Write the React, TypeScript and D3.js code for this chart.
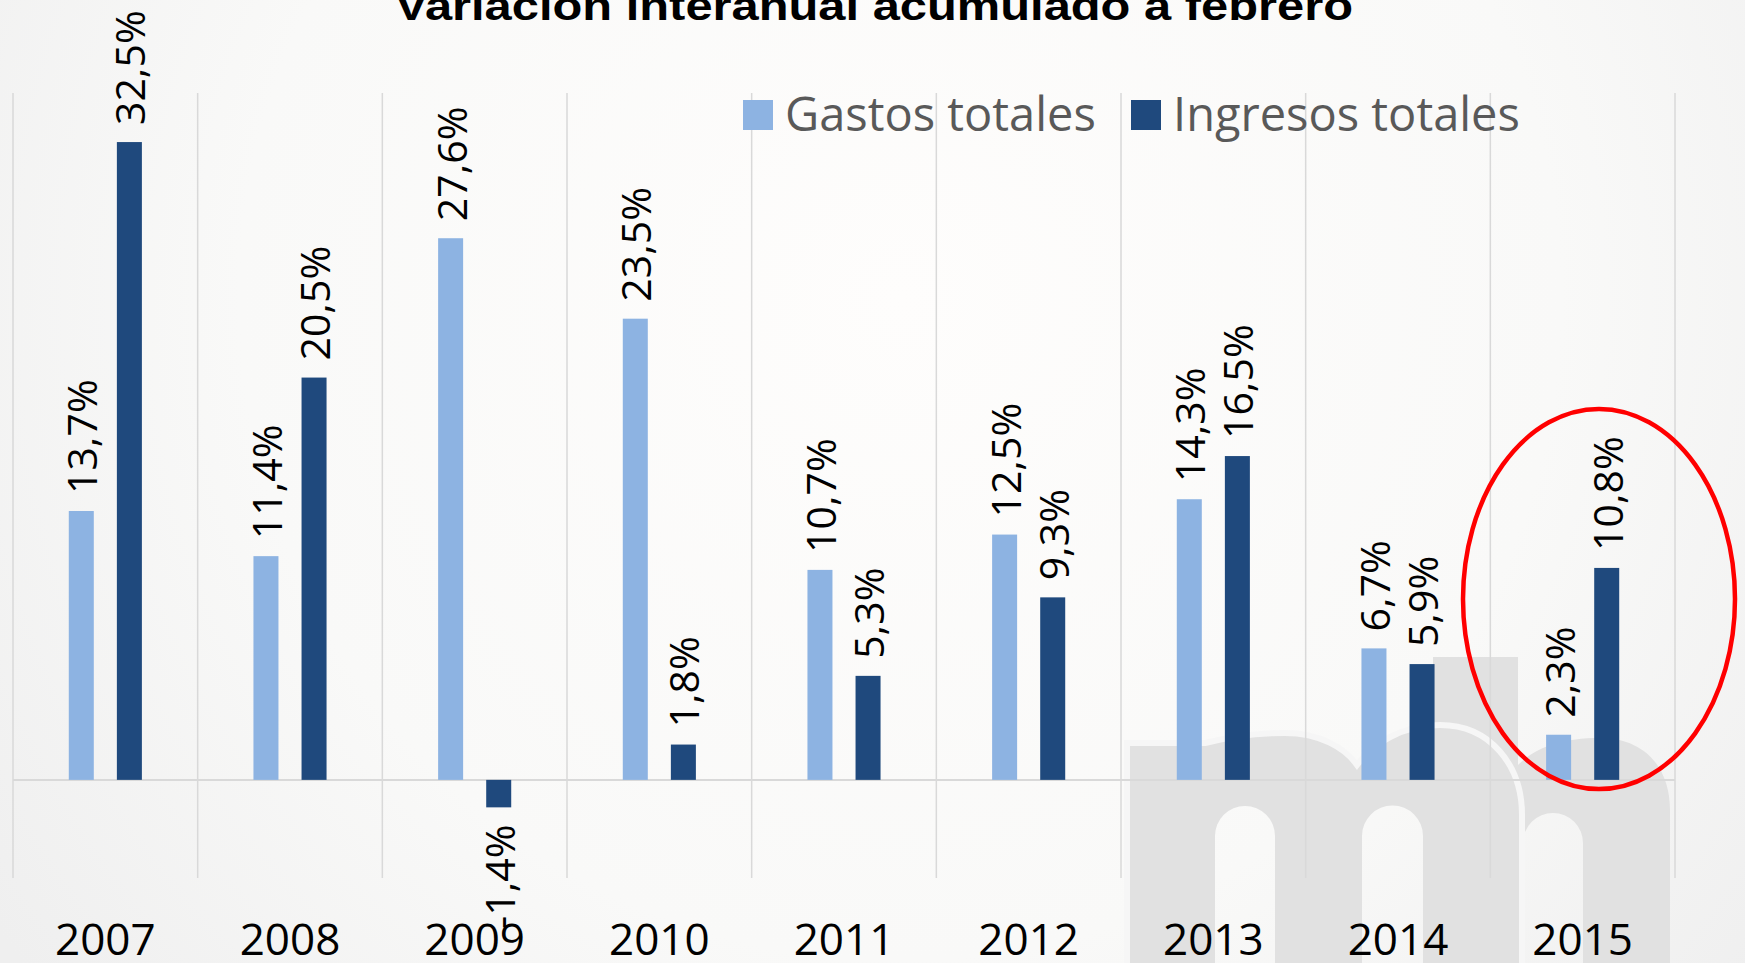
import React from 'react'
import * as d3 from 'd3'

// datos (variación interanual, %)
const years = ['2007', '2008', '2009', '2010', '2011', '2012', '2013', '2014', '2015']
const gastos = [13.7, 11.4, 27.6, 23.5, 10.7, 12.5, 14.3, 6.7, 2.3]
const ingresos = [32.5, 20.5, -1.4, 1.8, 5.3, 9.3, 16.5, 5.9, 10.8]
const seriesNames = ['Gastos totales', 'Ingresos totales']
const seriesColors = ['#8db3e2', '#1f497d']
const title = 'Variación interanual acumulado a febrero'

const W = 1745
const H = 963
const FONT = "'Open Sans', 'Noto Sans', sans-serif"

const fmt = (v: number) => v.toFixed(1).replace('.', ',') + '%'

function Watermark() {
    // logo gris de fondo (abajo a la derecha)
    const gray = '#e1e1e1'
    return (
        <g>
            <path
                d="M1433,966 V657 H1518 V765 C1535,748 1560,738 1600,738 C1645,738 1670,768 1670,810 V966 Z"
                fill={gray}
            />
            <path d="M1523,966 V843 A30,30 0 0 1 1583,843 V966 Z" fill="url(#bg)" />
            <path
                d="M1127,966 V743 H1205 C1225,738 1250,733 1285,733 C1320,733 1345,748 1357,765 C1372,745 1400,725 1440,725 C1490,725 1522,765 1522,815 V966 Z"
                fill={gray}
                stroke="#f6f6f6"
                strokeWidth={6}
            />
            <path d="M1215,966 V836 A30,30 0 0 1 1275,836 V966 Z" fill="url(#bg)" />
            <path d="M1362,966 V836 A30.5,30.5 0 0 1 1423,836 V966 Z" fill="url(#bg)" />
        </g>
    )
}

export default function App() {
    const x = d3.scaleBand<string>().domain(years).range([13, 1675])
    const xs = d3
        .scaleBand<string>()
        .domain(seriesNames)
        .range([0, x.bandwidth()])
        .paddingInner(0.48)
        .paddingOuter(1.16)
    const y = d3.scaleLinear().domain([-5, 35]).range([878, 93])
    const y0 = y(0)

    const series = [gastos, ingresos]
    const bars = years.flatMap((yr, i) =>
        seriesNames.map((name, s) => ({
            key: yr + name,
            x: (x(yr) as number) + (xs(name) as number),
            v: series[s][i],
            color: seriesColors[s],
        }))
    )
    const bounds = years.map(yr => x(yr) as number).concat([x.range()[1]])

    return (
        <svg
            width={W}
            height={H}
            style={{ position: 'absolute', left: 0, top: 0, display: 'block' }}
        >
            <defs>
                <radialGradient id="bg" gradientUnits="userSpaceOnUse" cx={900} cy={300} r={1100}>
                    <stop offset="0" stopColor="#fefdfc" />
                    <stop offset="0.6" stopColor="#f9f9f8" />
                    <stop offset="1" stopColor="#efefef" />
                </radialGradient>
            </defs>
            <rect width={W} height={H} fill="url(#bg)" />
            <Watermark />

            {/* separadores verticales */}
            {bounds.map((bx, i) => (
                <line key={i} x1={bx} x2={bx} y1={y.range()[1]} y2={y.range()[0]} stroke="#d9d9d9" strokeWidth={1.5} />
            ))}
            <line x1={x.range()[0]} x2={x.range()[1]} y1={y0} y2={y0} stroke="#d9d9d9" strokeWidth={2} />

            {bars.map(b => (
                <rect
                    key={b.key}
                    x={b.x}
                    y={Math.min(y(b.v), y0)}
                    width={xs.bandwidth()}
                    height={Math.abs(y(b.v) - y0)}
                    fill={b.color}
                />
            ))}

            {bars.map(b => {
                const cx = b.x + xs.bandwidth() / 2
                const pos = b.v >= 0
                const ty = pos ? y(b.v) - 17 : y(b.v) + 17
                return (
                    <text
                        key={'l' + b.key}
                        transform={`translate(${cx + 16},${ty}) rotate(-90)`}
                        textAnchor={pos ? 'start' : 'end'}
                        fontFamily={FONT}
                        fontSize={41}
                        fill="#000"
                    >
                        {fmt(b.v)}
                    </text>
                )
            })}

            {years.map(yr => (
                <text
                    key={yr}
                    x={(x(yr) as number) + x.bandwidth() / 2}
                    y={955}
                    textAnchor="middle"
                    fontFamily={FONT}
                    fontSize={44}
                    fill="#000"
                >
                    {yr}
                </text>
            ))}

            {/* leyenda */}
            {seriesNames.map((name, s) => {
                const lx = [743, 1131][s]
                return (
                    <g key={name}>
                        <rect x={lx} y={100} width={30} height={30} fill={seriesColors[s]} />
                        <text x={lx + 42} y={131} fontFamily={FONT} fontSize={47} fill="#595959">
                            {name}
                        </text>
                    </g>
                )
            })}

            <text
                x={874}
                y={20}
                textAnchor="middle"
                fontFamily="'Liberation Sans', Arial, sans-serif"
                fontWeight="bold"
                fontSize={40}
                textLength={958}
                lengthAdjust="spacingAndGlyphs"
                fill="#000"
            >
                {title}
            </text>

            <ellipse cx={1599} cy={599} rx={136} ry={190} fill="none" stroke="#ff0000" strokeWidth={4.5} />
        </svg>
    )
}
